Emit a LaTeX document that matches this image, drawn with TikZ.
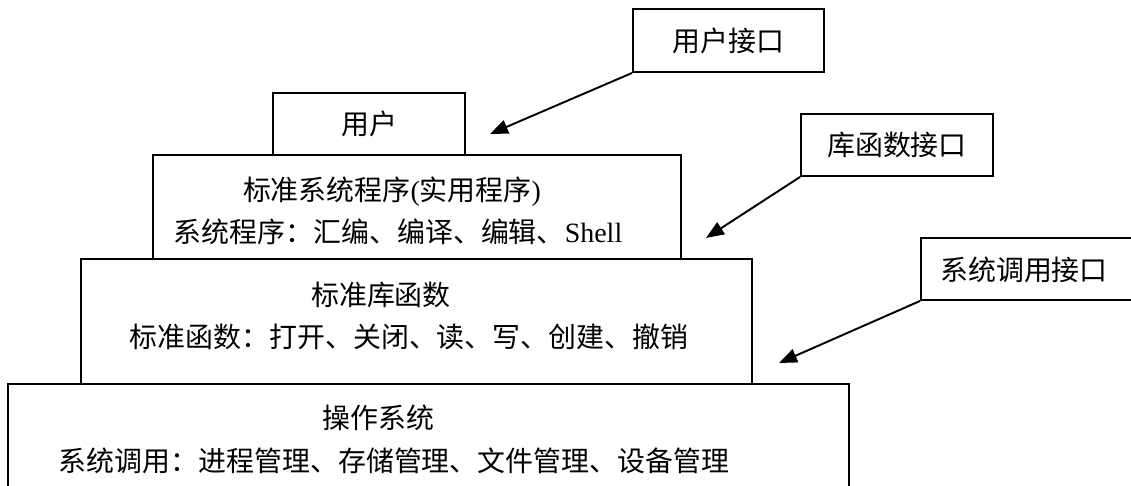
\documentclass[tikz,border=0pt]{standalone}
\usepackage{fontspec}
\setmainfont{Liberation Serif}
\newfontfamily\cjk{Noto Sans CJK SC}
\usepackage{tikz}
\usetikzlibrary{arrows.meta}

\tikzset{
  box/.style={draw,line width=1.1pt,inner sep=0pt},
  txt/.style={font=\cjk\fontsize{15.9}{18}\selectfont},
  arr/.style={line width=1.1pt,-{Triangle[length=0.36cm,width=0.28cm]}}
}

\begin{document}
\begin{tikzpicture}[x=0.02cm,y=-0.02cm]
  \useasboundingbox (0,0) rectangle (1131,486);
  \clip (0,0) rectangle (1131,486);
  % layers
  \node[box,txt,minimum width=3.84cm,minimum height=1.24cm](user) at (369,124) {用户};
  \node[box,minimum width=10.56cm,minimum height=2.08cm](sysprog) at (417,207) {};
  \node[box,minimum width=13.42cm,minimum height=2.5cm](libfun) at (416.5,321.5) {};
  \node[box,minimum width=16.82cm,minimum height=2.72cm](os) at (428.5,452) {};
  \node[txt](sysprogA) at (392,192) {标准系统程序{\rmfamily(}实用程序{\rmfamily)}};
  \node[txt](sysprogB) at (398,232) {系统程序：汇编、编译、编辑、{\rmfamily Shell}};
  \node[txt](libfunA) at (381,295) {标准库函数};
  \node[txt](libfunB) at (409,337) {标准函数：打开、关闭、读、写、创建、撤销};
  \node[txt](osA) at (378.5,418) {操作系统};
  \node[txt](osB) at (394,461) {系统调用：进程管理、存储管理、文件管理、设备管理};
  % interfaces
  \node[box,txt,minimum width=3.82cm,minimum height=1.26cm](uiface) at (728.5,40.5) {用户接口};
  \node[box,txt,minimum width=3.84cm,minimum height=1.24cm](libface) at (897,145) {库函数接口};
  \node[box,minimum width=4.78cm,minimum height=1.24cm](sysface) at (1040.5,269) {};
  \node[txt](sysfaceA) at (1024,270) {系统调用接口};
  \coordinate(uitip) at (490,134);
  \coordinate(libtip) at (706,238);
  \coordinate(systip) at (779,363);
  \draw[arr] (uiface.south west) -- (uitip);
  \draw[arr] (libface.south west) -- (libtip);
  \draw[arr] (sysface.south west) -- (systip);
\end{tikzpicture}
\end{document}
